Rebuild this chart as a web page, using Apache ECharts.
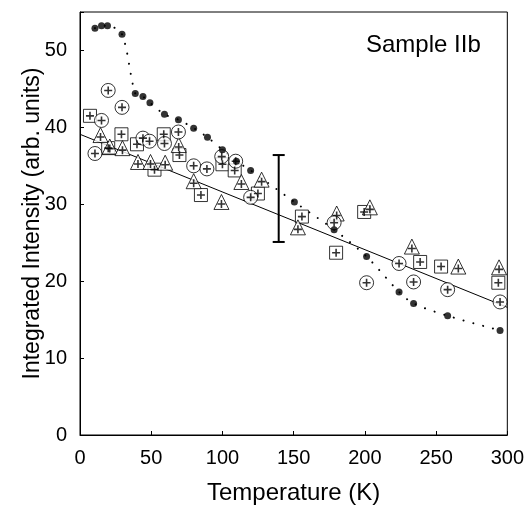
<!DOCTYPE html>
<html><head><meta charset="utf-8">
<script src="https://cdn.jsdelivr.net/npm/echarts@6/dist/echarts.min.js"></script>
<style>html,body{margin:0;padding:0;background:#fff}#c{width:527px;height:510px}</style>
</head><body><div id="c"></div>
<script>
// Filled dots (with dotted guide)
const dotX = [10.5, 15.1, 19.3, 29.5, 38.8, 44.2, 49.1, 59.3, 69.1, 79.8, 89.5, 100, 109.8, 119.8, 150.5, 178.4, 201.2, 224, 234.2, 258.1, 294.9];
const dotY = [52.9, 53.2, 53.2, 52.1, 44.4, 44.0, 43.2, 41.7, 41.0, 39.9, 38.7, 37.1, 35.6, 34.4, 30.3, 26.7, 23.2, 18.6, 17.1, 15.5, 13.6];
// Open circles with plus
const cirX = [10.5, 15.1, 19.8, 29.5, 44.2, 48.8, 59.3, 69.1, 79.8, 89.1, 99.5, 109.3, 119.8, 178.4, 201.2, 224, 234.2, 258.1, 294.9];
const cirY = [36.6, 40.9, 44.8, 42.6, 38.6, 38.2, 37.9, 39.4, 35.0, 34.6, 36.2, 35.6, 30.9, 27.6, 19.8, 22.3, 19.9, 18.9, 17.3];
// Squares with plus
const sqX = [7, 19.8, 29.1, 40, 52.3, 58.8, 69.8, 84.9, 100, 108.6, 124.9, 155.8, 179.8, 199.5, 238.8, 253.5, 293.7];
const sqY = [41.5, 37.3, 39.1, 37.8, 34.5, 39.1, 36.4, 31.2, 35.2, 34.4, 31.4, 28.4, 23.7, 29.0, 22.5, 21.9, 19.8];
// Triangles with plus
const triX = [14.4, 20.9, 29.8, 40.7, 49.5, 59.8, 69.3, 79.8, 99.3, 113.3, 127.5, 153, 180.2, 203.5, 233, 265.6, 294.2];
const triY = [39.0, 37.5, 37.3, 35.5, 35.5, 35.4, 37.7, 33.0, 30.3, 32.9, 33.2, 27.0, 28.8, 29.6, 24.5, 21.9, 21.8];
// Linear fit
const fitX = [0, 300];
const fitY = [39.1, 16.6];
// Error bar
const errX = [139.5];
const errLow = [25.1];
const errHigh = [36.4];
// Axis ticks
const xTicks = [0, 50, 100, 150, 200, 250, 300];
const yTicks = [0, 10, 20, 30, 40, 50];

const zip = (a, b) => a.map((v, i) => [v, b[i]]);
const PLUS = 'path://M-1,-5H1V-1H5V1H1V5H-1V1H-5V-1H-1Z';
const FONT = 'Liberation Sans';

const chart = echarts.init(document.getElementById('c'), null, {renderer: 'canvas'});
function openSeries(name, symbol, size, xs, ys, offset) {
  return [{
    type: 'scatter', name, data: zip(xs, ys), symbol, symbolSize: size,
    itemStyle: {color: '#fff', borderColor: '#000', borderWidth: 1}, z: 3, silent: true
  }, {
    type: 'scatter', name: name + '+', data: zip(xs, ys), symbol: PLUS, symbolSize: 8,
    symbolOffset: offset || [0, 0],
    itemStyle: {color: '#000'}, z: 4, silent: true
  }];
}
chart.setOption({
  animation: false,
  backgroundColor: '#fff',
  grid: {left: 80, right: 17, top: 12, bottom: 69, show: true, borderColor: '#000', borderWidth: 1, backgroundColor: 'transparent'},
  xAxis: {
    type: 'value', min: 0, max: 300, interval: 50,
    name: 'Temperature (K)', nameLocation: 'middle', nameGap: 46, nameMoveOverlap: false,
    nameTextStyle: {fontFamily: FONT, fontSize: 24, color: '#000', verticalAlign: 'top'},
    axisLine: {show: true, lineStyle: {color: '#000', width: 1}},
    axisTick: {show: true, inside: true, length: 4, lineStyle: {color: '#000'}},
    axisLabel: {fontFamily: FONT, fontSize: 20, color: '#000', margin: 13,
      formatter: v => xTicks.includes(v) ? String(v) : ''},
    splitLine: {show: false}
  },
  yAxis: {
    type: 'value', min: 0, max: 55, interval: 10,
    name: 'Integrated Intensity (arb. units)', nameLocation: 'middle', nameGap: 36, nameMoveOverlap: false,
    nameTextStyle: {fontFamily: FONT, fontSize: 23, color: '#000'},
    axisLine: {show: true, lineStyle: {color: '#000', width: 1}},
    axisTick: {show: true, inside: true, length: 4, lineStyle: {color: '#000'}},
    axisLabel: {fontFamily: FONT, fontSize: 20, color: '#000', margin: 13,
      formatter: v => yTicks.includes(v) ? String(v) : ''},
    splitLine: {show: false}
  },
  graphic: [{
    type: 'text', left: 366, top: 33,
    style: {text: 'Sample IIb', font: '24px "Liberation Sans"', fill: '#000'}
  }],
  series: [
    {type: 'line', data: zip(fitX, fitY), symbol: 'none', lineStyle: {color: '#000', width: 1}, z: 1, silent: true},
    {type: 'line', data: zip(dotX, dotY), symbol: 'none', smooth: 0.3,
      lineStyle: {color: '#000', width: 2, type: [0.1, 10], cap: 'round'}, z: 1, silent: true},
    {type: 'custom', z: 2, silent: true,
      data: errX.map((x, i) => [x, errLow[i], errHigh[i]]),
      renderItem: (params, api) => {
        const lo = api.coord([api.value(0), api.value(1)]);
        const hi = api.coord([api.value(0), api.value(2)]);
        const w = 6;
        const st = {stroke: '#000', lineWidth: 2};
        return {type: 'group', children: [
          {type: 'line', shape: {x1: lo[0], y1: lo[1], x2: hi[0], y2: hi[1]}, style: st},
          {type: 'line', shape: {x1: lo[0] - w, y1: lo[1], x2: lo[0] + w, y2: lo[1]}, style: st},
          {type: 'line', shape: {x1: hi[0] - w, y1: hi[1], x2: hi[0] + w, y2: hi[1]}, style: st}
        ]};
      }},
    ...openSeries('squares', 'rect', 13, sqX, sqY),
    ...openSeries('triangles', 'triangle', 15, triX, triY, [0, 2]),
    ...openSeries('circles', 'circle', 14, cirX, cirY),
    {type: 'scatter', data: zip(dotX, dotY), symbol: 'circle', symbolSize: 7,
      itemStyle: {color: '#000'}, z: 5, silent: true}
  ]
});
</script>
</body></html>
